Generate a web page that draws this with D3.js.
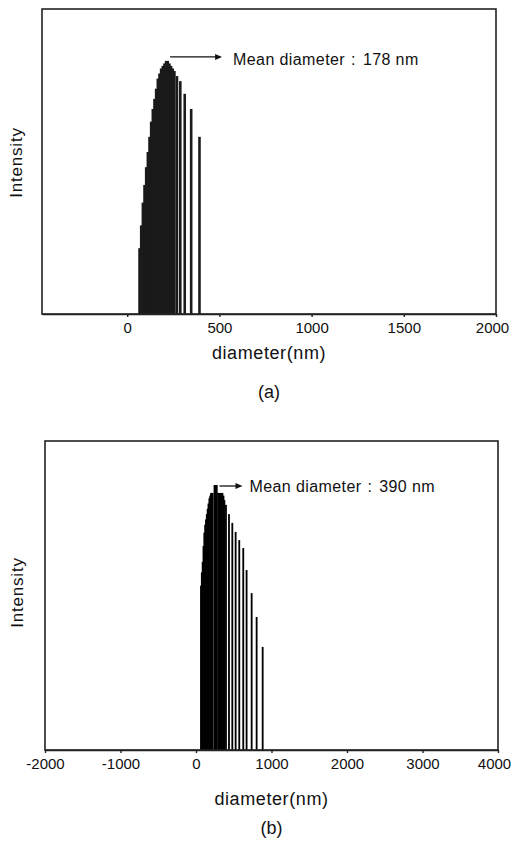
<!DOCTYPE html>
<html><head><meta charset="utf-8">
<script src="https://cdn.jsdelivr.net/npm/d3@7"></script>
<style>body{margin:0;background:#fff}svg{display:block}</style>
</head><body>
<svg id="c" width="513" height="841"></svg>
<script>
// Panel (a) data: diameter (nm) and relative intensity (% of peak)
const diamA = [67,76,85,94,103,112,121,130,139,148,157,166,175,184,193,202,211,220,229,238,247,256,270,288,312,347,392];
const intA  = [26,35,44,51,58,64,70,76,81,85,89,93,95,97,98,99,100,100,99,98,97,96,94,92,87,81,70];
const ticksA = [0,500,1000,1500,2000];
// Panel (b) data
const diamB = [66,77,88,99,110,121,132,143,154,165,177,188,199,210,221,245,261,275,294,308,322,336,350,364,376,397,437,481,525,573,626,670,737,803,883];
const intB  = [62,67,71,77,82,85,87,89,91,93,95,96,97,97,97,100,100,100,97,97,97,97,97,96,94.3,92.5,89,85.7,82.3,79.2,76.2,67.9,59.2,50.2,38.9];
const ticksB = [-2000,-1000,0,1000,2000,3000,4000];
const meanA = "178 nm", meanB = "390 nm";
const labels = ["(a)","(b)"];

const svg = d3.select("#c");
const FONT = "'Liberation Sans', Arial, sans-serif";

function panel(cfg){
  const g = svg.append("g");
  const x = d3.scaleLinear().domain(cfg.xdom).range([cfg.left, cfg.right]);
  const y = d3.scaleLinear().domain([0, cfg.ymax]).range([cfg.bottom, cfg.top]);
  const data = cfg.d.map((d,i)=>({d, v: cfg.v[i]}));
  g.selectAll("rect.bar").data(data).enter().append("rect")
    .attr("x", p=>x(p.d - cfg.hw))
    .attr("width", p=>x(p.d + cfg.hw) - x(p.d - cfg.hw))
    .attr("y", p=>y(p.v))
    .attr("height", p=>y(0)-y(p.v))
    .attr("fill", cfg.barColor);
  // frame
  g.append("rect").attr("x", cfg.left).attr("y", cfg.top)
    .attr("width", cfg.right-cfg.left).attr("height", cfg.bottom-cfg.top)
    .attr("fill","none").attr("stroke","#222").attr("stroke-width",1.6);
  const ax = g.append("g").attr("transform",`translate(0,${cfg.bottom})`)
    .call(d3.axisBottom(x).tickValues(cfg.ticks).tickSize(3).tickSizeOuter(0).tickPadding(cfg.pad).tickFormat(d=>String(d)));
  ax.select(".domain").attr("stroke","#222").attr("stroke-width",1.6);
  ax.selectAll(".tick line").attr("stroke","#222").attr("stroke-width",1.4);
  ax.selectAll(".tick text").attr("font-family",FONT).attr("font-size",15).attr("fill","#111")
    .attr("dx",(d,i,n)=> i===n.length-1 ? -4 : 0);
  g.append("text").attr("x",(cfg.left+cfg.right)/2).attr("y",cfg.titleY)
    .attr("text-anchor","middle").attr("font-family",FONT).attr("font-size",18)
    .attr("letter-spacing",0.6).attr("fill","#111").text("diameter(nm)");
  g.append("text").attr("x",(cfg.left+cfg.right)/2).attr("y",cfg.labelY)
    .attr("text-anchor","middle").attr("font-family",FONT).attr("font-size",18)
    .attr("fill","#111").text(cfg.label);
  g.append("text").attr("transform",`translate(${cfg.ylabX},${(cfg.top+cfg.bottom)/2 + cfg.ylabDY}) rotate(-90)`)
    .attr("text-anchor","middle").attr("font-family",FONT).attr("font-size",17)
    .attr("letter-spacing",0.8).attr("fill","#111").text("Intensity");
  // annotation arrow
  const peak = data.reduce((a,b)=> b.v > a.v ? b : a);
  const ay = y(peak.v) + cfg.arrowDY;
  const ax0 = x(peak.d) + cfg.arrowGap, ax1 = ax0 + cfg.arrowLen;
  g.append("line").attr("x1",ax0).attr("x2",ax1-5).attr("y1",ay).attr("y2",ay)
    .attr("stroke","#111").attr("stroke-width",1.3);
  g.append("path").attr("d",`M${ax1},${ay} L${ax1-7},${ay-3} L${ax1-7},${ay+3} Z`).attr("fill","#111");
  const t = g.append("text").attr("x",ax1+cfg.textGap).attr("y",ay+cfg.textDY)
    .attr("font-family",FONT).attr("font-size",16).attr("letter-spacing",0.4).attr("fill","#111");
  t.append("tspan").text("Mean diameter");
  t.append("tspan").attr("dx",6).text(":");
  t.append("tspan").attr("dx",7).text(cfg.mean);
}

panel({d:diamA, v:intA, ticks:ticksA, xdom:[-462,2000], ymax:120.5, hw:7,
  left:42, right:496, top:9, bottom:314, pad:5, titleY:359, labelY:398, label:labels[0],
  ylabX:22, ylabDY:1, barColor:"#1a1a1a",
  arrowDY:-4, arrowGap:4, arrowLen:52, textGap:11, textDY:8, mean:meanA});
panel({d:diamB, v:intB, ticks:ticksB, xdom:[-2000,4000], ymax:116.6, hw:12,
  left:45, right:498, top:441, bottom:750, pad:5, titleY:805, labelY:834, label:labels[1],
  ylabX:23, ylabDY:-3, barColor:"#000",
  arrowDY:1, arrowGap:5, arrowLen:23, textGap:7, textDY:6, mean:meanB});
</script>
</body></html>
